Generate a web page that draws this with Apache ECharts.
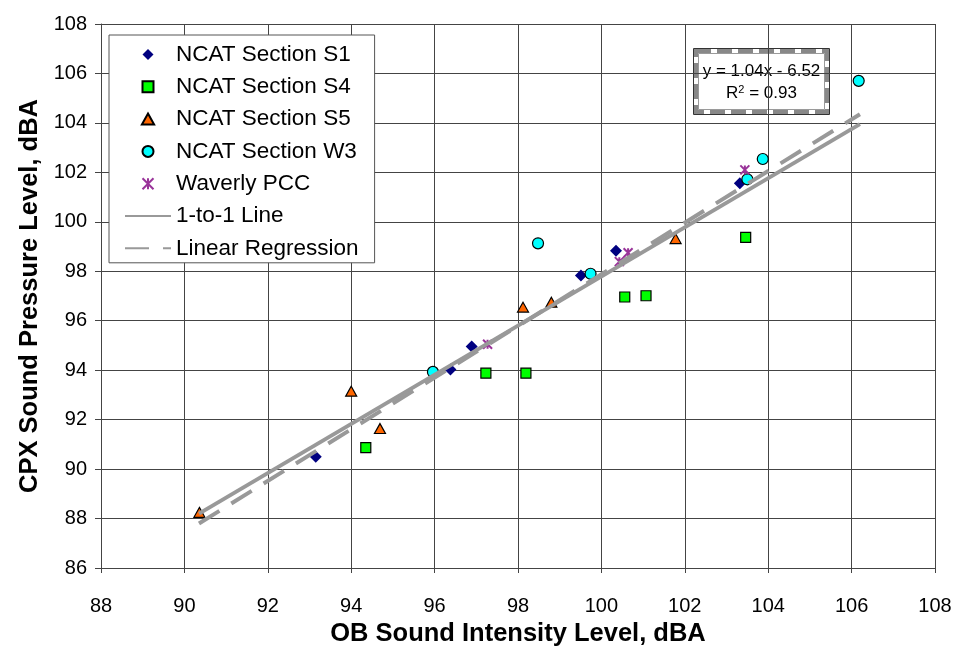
<!DOCTYPE html>
<html>
<head>
<meta charset="utf-8">
<script src="https://cdn.jsdelivr.net/npm/echarts@6/dist/echarts.min.js"></script>
<style>
  html, body { margin: 0; padding: 0; background: #fff; }
  #chart { width: 957px; height: 646px; }
</style>
</head>
<body>
<div id="chart"></div>
<script>
// OB sound intensity (x) vs CPX sound pressure (y), both in dBA
const xTicks = [88, 90, 92, 94, 96, 98, 100, 102, 104, 106, 108];
const yTicks = [86, 88, 90, 92, 94, 96, 98, 100, 102, 104, 106, 108];

const seriesNames = ['NCAT Section S1', 'NCAT Section S4', 'NCAT Section S5',
  'NCAT Section W3', 'Waverly PCC', '1-to-1 Line', 'Linear Regression'];

const ncatS1 = [[93.15, 90.5], [96.38, 94.03], [96.89, 94.96], [99.51, 97.83], [100.35, 98.83], [103.32, 101.56]];
const ncatS4 = [[94.35, 90.87], [97.23, 93.88], [98.19, 93.88], [100.56, 96.96], [101.07, 97.01], [103.46, 99.37]];
const ncatS5 = [[90.36, 88.25], [94.0, 93.15], [94.69, 91.64], [98.12, 96.55], [98.8, 96.75], [101.78, 99.32]];
const ncatW3 = [[95.96, 93.93], [98.48, 99.13], [99.74, 97.9], [103.5, 101.72], [103.87, 102.54], [106.17, 105.7]];
const waverlyPCC = [[97.27, 95.05], [100.43, 98.39], [100.64, 98.75], [103.44, 102.1]];

// line end points
const oneToOneLine = [[90.35, 88.2], [106.2, 103.95]];
const regressionLine = [[90.35, 87.8], [106.2, 104.35]];

const equationText = 'y = 1.04x - 6.52';
const rSquaredText = 'R{sup|2} = 0.93';

const FONT = '"Liberation Sans", Arial, sans-serif';

// marker shapes as paths so legend icons keep their proportions
const DIAMOND = 'path://M5,0L10,5L5,10L0,5Z';
const SQUARE = 'path://M0,0L10,0L10,10L0,10Z';
const TRIANGLE = 'path://M5,0L10,9L0,9Z';
const STAR = 'path://M0,0L10,10M10,0L0,10M5,0L5,10';

const chart = echarts.init(document.getElementById('chart'), null, { renderer: 'canvas' });

const scatter = (name, data, symbol, size, color, border) => ({
  name, type: 'scatter', data, symbol, symbolSize: size, symbolKeepAspect: true,
  itemStyle: border
    ? { color, borderColor: '#000', borderWidth: 1.2, opacity: 1 }
    : { color, opacity: 1 },
  emphasis: { disabled: true }
});

const legendData = [
  { name: seriesNames[0], icon: DIAMOND },
  { name: seriesNames[1], icon: SQUARE },
  { name: seriesNames[2], icon: TRIANGLE },
  { name: seriesNames[3], icon: 'circle' },
  { name: seriesNames[4], icon: STAR },
  { name: seriesNames[5], itemStyle: { opacity: 0 } },
  { name: seriesNames[6], itemStyle: { opacity: 0 } }
];

chart.setOption({
  animation: false,
  backgroundColor: '#fff',
  textStyle: { fontFamily: FONT },
  grid: { left: 101, right: 22, top: 24, bottom: 78, containLabel: false, outerBoundsMode: 'none' },
  xAxis: {
    type: 'value', min: xTicks[0], max: xTicks[xTicks.length - 1], interval: 2,
    name: 'OB Sound Intensity Level, dBA', nameLocation: 'middle', nameGap: 53,
    nameTextStyle: { fontFamily: FONT, fontWeight: 'bold', fontSize: 25.5, color: '#000' },
    axisLine: { show: true, lineStyle: { color: '#444', width: 1 } },
    axisTick: { show: true, inside: false, length: 5, lineStyle: { color: '#444' } },
    axisLabel: { fontFamily: FONT, fontSize: 20, color: '#000', margin: 28 },
    splitLine: { show: true, lineStyle: { color: '#444', width: 1 } }
  },
  yAxis: {
    type: 'value', min: yTicks[0], max: yTicks[yTicks.length - 1], interval: 2,
    name: 'CPX Sound Pressure Level, dBA', nameLocation: 'middle', nameGap: 58, nameRotate: 90,
    nameTextStyle: { fontFamily: FONT, fontWeight: 'bold', fontSize: 25.5, color: '#000' },
    axisLine: { show: true, lineStyle: { color: '#444', width: 1 } },
    axisTick: { show: true, inside: false, length: 6, lineStyle: { color: '#444' } },
    axisLabel: { fontFamily: FONT, fontSize: 20, color: '#000', margin: 14 },
    splitLine: { show: true, lineStyle: { color: '#444', width: 1 } }
  },
  legend: {
    orient: 'vertical', left: 109, top: 35,
    padding: [8, 16, 3, 15],
    backgroundColor: '#fff', borderColor: '#555', borderWidth: 1,
    itemWidth: 46, itemHeight: 11, itemGap: 9.3,
    symbolKeepAspect: true,
    textStyle: { fontFamily: FONT, fontSize: 22.5, color: '#000' },
    selectedMode: false,
    data: legendData
  },
  graphic: [
    {
      type: 'group', left: 693, top: 48,
      children: [
        { type: 'rect', shape: { x: 0, y: 0, width: 136, height: 66 },
          style: { fill: '#fff', stroke: '#333', lineWidth: 1 } },
        { type: 'rect', shape: { x: 2.5, y: 2.5, width: 131, height: 61 },
          style: { fill: 'none', stroke: '#888', lineWidth: 4, lineDash: [15, 6] } },
        { type: 'rect', shape: { x: 5, y: 5, width: 126, height: 56 },
          style: { fill: '#fff', stroke: '#555', lineWidth: 0.6 } },
        { type: 'text', x: 68, y: 23,
          style: { text: equationText, font: '17px ' + FONT, fill: '#000', align: 'center', verticalAlign: 'middle' } },
        { type: 'text', x: 68, y: 45,
          style: { text: rSquaredText, font: '17px ' + FONT, fill: '#000', align: 'center', verticalAlign: 'middle',
            rich: { sup: { fontSize: 11, verticalAlign: 'top', padding: [0, 0, 8, 0], fontFamily: FONT } } } }
      ]
    }
  ],
  series: [
    scatter(seriesNames[0], ncatS1, DIAMOND, 12, '#000080', false),
    scatter(seriesNames[1], ncatS4, SQUARE, 10, '#00ff00', true),
    scatter(seriesNames[2], ncatS5, TRIANGLE, 11, '#ff6600', true),
    scatter(seriesNames[3], ncatW3, 'circle', 11, '#00ffff', true),
    {
      name: seriesNames[4], type: 'scatter', data: waverlyPCC, symbol: STAR, symbolSize: 9, symbolKeepAspect: true,
      itemStyle: { color: 'none', borderColor: '#993399', borderWidth: 2, opacity: 1 },
      emphasis: { disabled: true }
    },
    {
      name: seriesNames[5], type: 'line', data: oneToOneLine, showSymbol: false, symbol: 'none',
      itemStyle: { color: '#999', opacity: 0 },
      lineStyle: { color: '#999', width: 4, opacity: 1 }, emphasis: { disabled: true }
    },
    {
      name: seriesNames[6], type: 'line', data: regressionLine, showSymbol: false, symbol: 'none',
      itemStyle: { color: '#999', opacity: 0 },
      lineStyle: { color: '#999', width: 4, type: [24, 14], opacity: 1 }, emphasis: { disabled: true }
    }
  ]
});
</script>
</body>
</html>
